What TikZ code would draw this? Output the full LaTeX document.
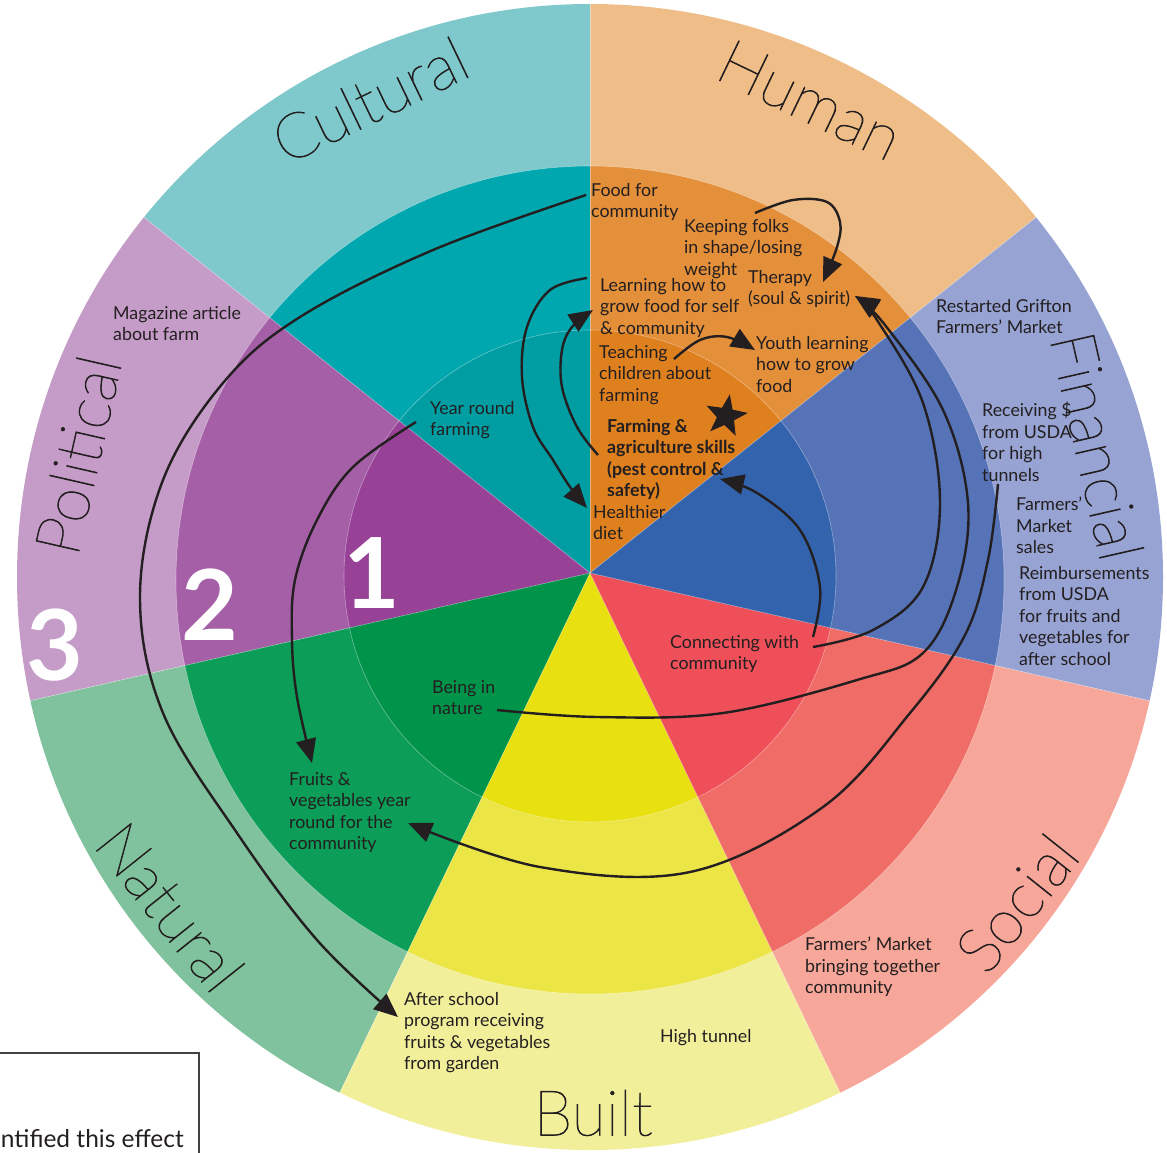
\documentclass[tikz,border=0pt]{standalone}
\usepackage{fontspec}
\setmainfont{Lato}
\IfFontExistsTF{Lato Thin}{\newfontfamily\capfont{Lato Thin}[FakeBold=1.2]}{%
 \IfFontExistsTF{Lato Hairline}{\newfontfamily\capfont{Lato Hairline}[FakeBold=1.6]}{%
  \IfFontExistsTF{Lato Light}{\newfontfamily\capfont{Lato Light}}{\newfontfamily\capfont{Lato}}}}
\usetikzlibrary{arrows.meta,shapes.geometric}
\definecolor{ink}{HTML}{231F20}
\definecolor{humO}{HTML}{EFBD87}\definecolor{humM}{HTML}{E48F3A}\definecolor{humI}{HTML}{DF801F}
\definecolor{finO}{HTML}{97A3D3}\definecolor{finM}{HTML}{5673B7}\definecolor{finI}{HTML}{3463AE}
\definecolor{socO}{HTML}{F7A799}\definecolor{socM}{HTML}{F06C66}\definecolor{socI}{HTML}{EE4F59}
\definecolor{bltO}{HTML}{F2EF9B}\definecolor{bltM}{HTML}{ECE546}\definecolor{bltI}{HTML}{E8E010}
\definecolor{natO}{HTML}{80C29D}\definecolor{natM}{HTML}{0C9D58}\definecolor{natI}{HTML}{00934A}
\definecolor{polO}{HTML}{C59CC8}\definecolor{polM}{HTML}{A45FA6}\definecolor{polI}{HTML}{974197}
\definecolor{culO}{HTML}{7FC8CB}\definecolor{culM}{HTML}{00A7AE}\definecolor{culI}{HTML}{009EA3}
\newcommand\wedgefill[2]{\fill[#2] (0,0) -- (-#1:900) -- ({-(#1+25.7143)}:900) -- ({-(#1+51.4286)}:900) -- cycle;}
\begin{document}
\begin{tikzpicture}[x=1pt,y=-1pt,
  lbl/.style={anchor=north west, inner sep=0pt, align=left, text=ink, font=\fontsize{17.8}{21.5}\selectfont},
  capital/.style={inner sep=0pt, text=ink, font=\capfont\fontsize{63}{63}\selectfont},
  bignum/.style={inner sep=0pt, text=white, font=\bfseries\fontsize{98}{98}\selectfont},
  arr/.style={draw=ink, line width=2.4pt, -{Triangle[length=24pt,width=20pt]}},
  sep/.style={white, opacity=.4, line width=.6pt},
  boxline/.style={draw=ink!85, line width=1.6pt}
]
\useasboundingbox (0,0) rectangle (1167,1153);
\fill[white] (0,0) rectangle (1167,1153);
% ---- rings ----
\begin{scope}[shift={(590,573)}]
 \begin{scope}
  \clip (0,4) circle[radius=573];
  \foreach \s/\c in {38.5714/humO,90/culO,141.4286/polO,192.8571/natO,244.2857/bltO,295.7143/socO,347.1429/finO}{\wedgefill{\s}{\c}}
 \end{scope}
 \begin{scope}
  \clip (0,7) circle[radius=414];
  \foreach \s/\c in {38.5714/humM,90/culM,141.4286/polM,192.8571/natM,244.2857/bltM,295.7143/socM,347.1429/finM}{\wedgefill{\s}{\c}}
 \end{scope}
 \begin{scope}
  \clip (0,3) circle[radius=246];
  \foreach \s/\c in {38.5714/humI,90/culI,141.4286/polI,192.8571/natI,244.2857/bltI,295.7143/socI,347.1429/finI}{\wedgefill{\s}{\c}}
 \end{scope}
 \draw[sep] (0,7) circle[radius=414];
 \draw[sep] (0,3) circle[radius=246];
 \begin{scope}
  \clip (0,4) circle[radius=573];
  \foreach \s in {38.5714,90,141.4286,192.8571,244.2857,295.7143,347.1429}{\draw[sep] (0,0) -- (-\s:600);}
 \end{scope}
\end{scope}
% ---- big numbers ----
\node[bignum] (n1) at (372,573) {1};
\node[bignum] (n2) at (210,605) {2};
\node[bignum] (n3) at (55,645) {3};
% ---- capital names ----
\node[capital, rotate=25.714] (kCult) at (370,100) {Cultural};
\node[capital, rotate=-25.714] (kHum) at (810,100) {Human};
\node[capital, rotate=-77.143] (kFin) at (1097,446) {Financial};
\node[capital, rotate=51.429] (kSoc) at (1017,903) {Social};
\node[capital] (kBlt) at (593,1113) {Built};
\node[capital, rotate=-51.429] (kNat) at (170,907) {Natural};
\node[capital, rotate=77.143] (kPol) at (78,455) {Political};
% ---- labels ----
\node[lbl] (food) at (591,183) {Food for\\community};
\node[lbl] (keep) at (684,219) {Keeping folks\\in shape/losing\\weight};
\node[lbl] (ther) at (748,270) {Therapy\\(soul \& spirit)};
\node[lbl] (learn) at (600,278) {Learning how to\\grow food for self\\\& community};
\node[lbl] (teach) at (599,345) {Teaching\\children about\\farming};
\node[lbl] (youth) at (756,336) {Youth learning\\how to grow\\food};
\node[lbl, font=\bfseries\fontsize{17.8}{21.5}\selectfont] (farm) at (607,419) {Farming \&\\agriculture skills\\(pest control \&\\safety)};
\node[lbl] (health) at (593,505) {Healthier\\diet};
\node[lbl] (grift) at (936,299) {Restarted Grifton\\Farmers’ Market};
\node[lbl] (usda) at (982,402) {Receiving \$\\from USDA\\for high\\tunnels};
\node[lbl] (fms) at (1016,497) {Farmers’\\Market\\sales};
\node[lbl] (reimb) at (1019,566) {Reimbursements\\from USDA\\for fruits and\\vegetables for\\after school};
\node[lbl] (conn) at (670,635) {Connecting with\\community};
\node[lbl] (being) at (432,680) {Being in\\nature};
\node[lbl] (fruit) at (289,772) {Fruits \&\\vegetables year\\round for the\\community};
\node[lbl] (year) at (430,401) {Year round\\farming};
\node[lbl] (mag) at (113,306) {Magazine article\\about farm};
\node[lbl] (after) at (404,992) {After school\\program receiving\\fruits \& vegetables\\from garden};
\node[lbl] (tunnel) at (660,1029) {High tunnel};
\node[lbl] (fmbt) at (805,937) {Farmers’ Market\\bringing together\\community};
\node[star, star points=5, star point ratio=2.4, fill=ink, minimum size=44pt, inner sep=0pt, rotate=-10] (star) at (726,416) {};
% ---- legend box (cut) ----
\draw[boxline] (0,1053) -- (199,1053) -- (199,1160);
\node[anchor=base east, inner sep=0pt, text=ink, font=\fontsize{24.5}{27}\selectfont] (ident) at (184,1147) {ntified this effect};
% ---- arrow end points ----
\coordinate (fd1) at (586,195);  \coordinate (as1) at (398,1017);
\coordinate (yr1) at (416,422);  \coordinate (fv1) at (312,763);
\coordinate (rc1) at (998,484);  \coordinate (fv2) at (408,823);
\coordinate (kf1) at (755,213);  \coordinate (th1) at (823,282);
\coordinate (lh1) at (587,278);  \coordinate (hd1) at (587,508);
\coordinate (fa1) at (598,455);  \coordinate (lh2) at (593,310);
\coordinate (te1) at (674,359);  \coordinate (yl1) at (755,350);
\coordinate (cw1) at (813,637);  \coordinate (fa2) at (720,479);
\coordinate (cw2) at (813,647);  \coordinate (th2) at (855,296);
\coordinate (bn1) at (497,710);
% ---- arrows ----
\draw[arr] plot[smooth, tension=.6] coordinates {(fd1) (433,250) (300,317) (223,383) (163,480) (140,597) (163,713) (237,833) (317,940) (as1)};
\draw[arr] plot[smooth, tension=.6] coordinates {(yr1) (353,467) (317,520) (295,580) (292,640) (297,697) (fv1)};
\draw[arr] plot[smooth, tension=.6] coordinates {(rc1) (988,560) (965,635) (910,713) (823,807) (690,872) (540,867) (fv2)};
\draw[arr] plot[smooth, tension=.6] coordinates {(kf1) (793,200) (827,202) (840,222) (837,247) (th1)};
\draw[arr] plot[smooth, tension=.6] coordinates {(lh1) (550,290) (527,327) (522,377) (533,427) (553,460) (570,487) (hd1)};
\draw[arr] plot[smooth, tension=.6] coordinates {(fa1) (577,427) (562,387) (562,350) (572,327) (lh2)};
\draw[arr] plot[smooth, tension=.6] coordinates {(te1) (700,340) (727,337) (yl1)};
\draw[arr] plot[smooth, tension=.6] coordinates {(cw1) (820,587) (800,530) (757,493) (fa2)};
\draw[arr] plot[smooth, tension=.6] coordinates {(cw2) (873,630) (923,587) (940,503) (923,403) (877,320) (th2)};
\draw[arr] plot[smooth, tension=.6] coordinates {(bn1) (597,717) (723,713) (857,680) (923,653) (957,587) (968,503) (943,410) (885,325) (th2)};
\end{tikzpicture}
\end{document}
